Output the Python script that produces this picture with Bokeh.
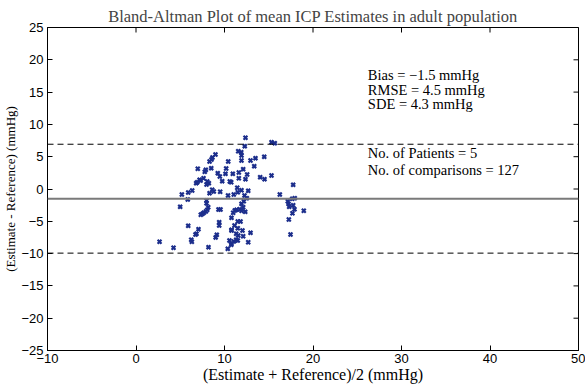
import math
from bokeh.plotting import figure
from bokeh.models import Span, Label, FixedTicker, Range1d
from bokeh.embed import file_html
from bokeh.resources import INLINE

# Bland-Altman data: mean of estimate & reference (x), difference (y)
mean_vals = [11.55, 8.98, 8.64, 8.53, 8.31, 10.42, 8.50, 6.98, 7.89, 7.77,
             9.24, 9.47, 10.94, 11.62, 7.63, 10.19, 7.18, 6.92, 6.80, 8.05,
             8.23, 7.97, 9.74, 10.60, 10.76, 11.62, 11.44, 8.61, 8.79, 8.31,
             9.51, 11.05, 6.35, 5.90, 5.18, 5.85, 7.97, 7.97, 4.99, 8.16,
             8.05, 7.89, 7.66, 7.51, 7.32, 9.32, 9.55, 11.16, 11.36, 10.98,
             9.40, 9.40, 5.90, 7.06, 6.84, 6.72, 10.79, 11.32, 11.55, 9.13,
             6.24, 6.31, 2.66, 10.56, 11.05, 11.32, 4.24, 8.19, 10.76, 10.37,
             12.37, 12.29, 15.31, 15.68, 11.89, 11.92, 11.92, 12.94, 13.50, 14.49,
             13.36, 12.11, 12.56, 12.37, 14.03, 14.52, 15.31, 11.92, 12.68, 11.50,
             12.26, 17.76, 16.25, 17.94, 17.65, 12.18, 12.52, 11.92, 17.15, 17.23,
             17.31, 17.76, 17.91, 18.96, 17.68, 17.27, 11.73, 11.92, 12.34, 12.11,
             10.79, 11.81, 11.50, 11.13, 11.50, 12.03, 10.79, 12.11, 12.94, 17.46,
             11.50, 12.68, 10.79, 10.11, 7.30, 10.40, 9.00]
diff_vals = [5.85, 5.34, 4.88, 4.57, 4.26, 4.26, 3.22, 3.13, 2.97, 2.66,
             2.45, 1.93, 2.35, 2.55, 1.67, 3.17, 1.42, 1.05, 0.90, 1.16,
             0.90, 0.70, 1.21, 1.16, 1.05, 1.67, 0.19, -0.12, -0.39, -0.65,
             -0.43, -0.85, -0.23, -0.54, -0.85, -1.63, -1.78, -2.20, -2.76, -2.82,
             -3.22, -3.48, -3.68, -3.84, -3.99, -3.17, -3.17, -3.33, -3.22, -3.68,
             -5.14, -5.65, -5.70, -6.22, -6.93, -7.04, -6.32, -6.93, -7.20, -7.09,
             -7.86, -8.17, -8.17, -7.97, -8.13, -7.86, -9.10, -9.01, -8.64, -9.26,
             7.93, 6.63, 7.24, 7.09, 5.70, 5.19, 4.41, 4.41, 4.77, 4.98,
             3.53, 3.07, 2.24, 1.52, 1.83, 1.52, 2.09, -0.19, -0.28, -0.50,
             -1.01, 0.65, -0.85, -1.42, -1.52, -1.89, -1.42, -2.29, -1.89, -2.29,
             -2.76, -2.51, -3.13, -3.37, -3.75, -4.72, -3.13, -3.37, -3.53, -2.82,
             -4.46, -5.03, -5.03, -5.65, -6.07, -6.42, -6.42, -7.31, -6.78, -7.04,
             -7.97, -8.24, -8.48, 2.35, 1.30, -1.00, -7.50]

bias = -1.5
sde = 4.3
rmse = 4.5
n_patients = 5
n_comparisons = 127
upper_loa = bias + 1.96 * sde
lower_loa = bias - 1.96 * sde

x_min, x_max = -10, 50
y_min, y_max = -25, 25
x_ticks = [-10, 0, 10, 20, 30, 40, 50]
y_ticks = [-25, -20, -15, -10, -5, 0, 5, 10, 15, 20, 25]

serif = "Liberation Serif"
sans = "Liberation Sans"

p = figure(width=585, height=385, output_backend="svg", toolbar_location=None,
           x_range=Range1d(x_min, x_max), y_range=Range1d(y_min, y_max),
           min_border_left=47, min_border_right=7, min_border_top=27, min_border_bottom=35)

p.title.text = "Bland-Altman Plot of mean ICP Estimates in adult population"
p.title.align = "center"
p.title.text_font = serif
p.title.text_font_style = "normal"
p.title.text_font_size = "16.5px"
p.title.standoff = 4
p.title.offset = 0

p.grid.visible = False
p.outline_line_color = "black"
p.outline_line_width = 1
p.background_fill_color = "white"
p.border_fill_color = "white"

for ax in (p.xaxis[0], p.yaxis[0]):
    ax.major_tick_in = 5
    ax.major_tick_out = 0
    ax.minor_tick_in = 0
    ax.minor_tick_out = 0
    ax.axis_line_color = "black"
    ax.major_label_text_font = sans
    ax.major_label_text_font_size = "13px"
    ax.major_label_text_color = "black"
    ax.axis_label_text_font = serif
    ax.axis_label_text_font_style = "normal"
    ax.axis_label_text_color = "black"

p.xaxis.axis_label_text_font_size = "16px"
p.yaxis.axis_label_text_font_size = "13px"
p.xaxis.ticker = FixedTicker(ticks=x_ticks)
p.yaxis.ticker = FixedTicker(ticks=y_ticks)
p.xaxis.axis_label = "(Estimate + Reference)/2 (mmHg)"
p.yaxis.axis_label = "(Estimate - Reference) (mmHg)"
p.xaxis.major_label_standoff = 3
p.yaxis.major_label_standoff = 4
p.xaxis.axis_label_standoff = 0
p.yaxis.axis_label_standoff = 0

# mirrored inward ticks on the top and right edges (half of each dash is clipped by the frame)
p.scatter(x_ticks, [y_max] * len(x_ticks), marker="dash", angle=math.pi / 2, size=10,
          line_color="black", line_width=1)
p.scatter([x_max] * len(y_ticks), y_ticks, marker="dash", size=10,
          line_color="black", line_width=1)

p.add_layout(Span(location=bias, dimension="width", line_color="#7a7a7a", line_width=2))
p.add_layout(Span(location=upper_loa, dimension="width", line_color="black",
                  line_width=1, line_dash="6 4"))
p.add_layout(Span(location=lower_loa, dimension="width", line_color="black",
                  line_width=1, line_dash="6 4"))

p.scatter(mean_vals, diff_vals, marker="x", size=5.5, line_width=2.2, color="#1c2e8c")

texts = [(17.6, "Bias = \u22121.5 mmHg"),
         (15.4, "RMSE = 4.5 mmHg"),
         (13.1, "SDE = 4.3 mmHg"),
         (5.65, "No. of Patients = 5"),
         (3.0, "No. of comparisons = 127")]
for yy, t in texts:
    p.add_layout(Label(x=26.2, y=yy, text=t, text_font=serif, text_font_size="14.5px",
                       text_baseline="middle", text_color="black"))

open("out.html", "w").write(file_html(p, INLINE))
